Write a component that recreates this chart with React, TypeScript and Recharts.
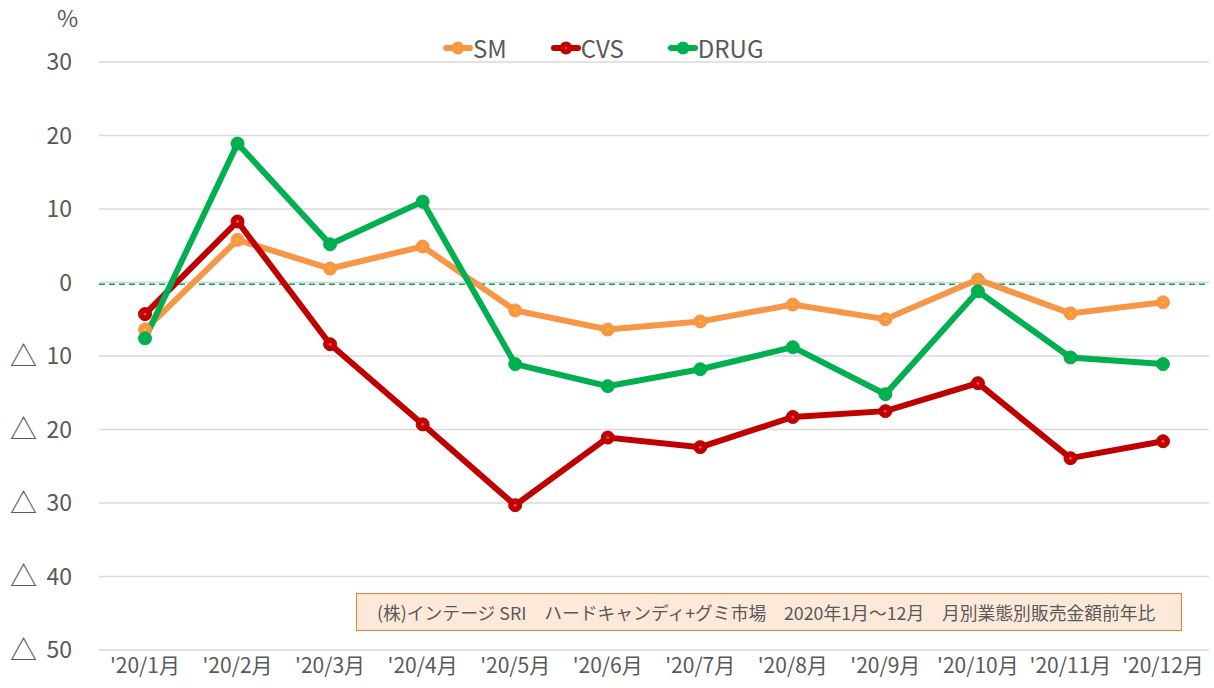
import React from "react";
import {
  CartesianGrid,
  Line,
  LineChart,
  ReferenceLine,
  XAxis,
  YAxis,
} from "recharts";

const months = [
  "'20/1月",
  "'20/2月",
  "'20/3月",
  "'20/4月",
  "'20/5月",
  "'20/6月",
  "'20/7月",
  "'20/8月",
  "'20/9月",
  "'20/10月",
  "'20/11月",
  "'20/12月",
];

const smValues = [-6.4, 5.8, 1.9, 4.9, -3.8, -6.4, -5.3, -3.0, -5.0, 0.4, -4.2, -2.7];
const cvsValues = [-4.3, 8.3, -8.4, -19.3, -30.3, -21.1, -22.4, -18.3, -17.5, -13.7, -23.9, -21.6];
const drugValues = [-7.6, 18.9, 5.2, 11.0, -11.1, -14.1, -11.8, -8.8, -15.2, -1.2, -10.2, -11.1];

const yTicks = [30, 20, 10, 0, -10, -20, -30, -40, -50];

const noteText =
  "(株)インテージ SRI　ハードキャンディ+グミ市場　2020年1月～12月　月別業態別販売金額前年比";

const series = [
  { key: "SM", color: "#f79646", inner: "#ffc000" },
  { key: "CVS", color: "#c00000", inner: "#e05050" },
  { key: "DRUG", color: "#00b050", inner: "#00b050" },
];

const data = months.map((m, i) => ({
  month: m,
  SM: smValues[i],
  CVS: cvsValues[i],
  DRUG: drugValues[i],
}));

const FONT = "'Noto Sans CJK JP', 'Noto Sans', sans-serif";
const TEXT = "#595959";

// negative values are shown with a triangle mark instead of a minus sign
function YTick(props: any) {
  const { x, y, payload } = props;
  const v = payload.value as number;
  return (
    <g>
      {v < 0 && (
        <text
          x={x - 62}
          y={y}
          dy="0.36em"
          fontSize={27}
          fill={TEXT}
          fontFamily={FONT}
          textAnchor="start"
        >
          △
        </text>
      )}
      <text
        x={x}
        y={y}
        dy="0.36em"
        fontSize={23}
        fill={TEXT}
        fontFamily={FONT}
        textAnchor="end"
      >
        {Math.abs(v)}
      </text>
    </g>
  );
}

function makeDot(color: string, inner: string) {
  return (props: any) => {
    const { cx, cy, index } = props;
    if (cx == null || cy == null) return <g key={index} />;
    return (
      <g key={index}>
        <circle cx={cx} cy={cy} r={6.5} fill={color} stroke={color} strokeWidth={1} />
        <circle cx={cx} cy={cy} r={1.5} fill={inner} />
      </g>
    );
  };
}

function ChartLegend() {
  return (
    <div
      style={{
        position: "absolute",
        left: 443,
        top: 33,
        display: "flex",
        gap: 44,
        fontSize: 24,
        color: TEXT,
        lineHeight: "30px",
      }}
    >
      {series.map((s) => (
        <div key={s.key} style={{ display: "flex", alignItems: "center" }}>
          <svg width={30} height={16}>
            <line x1={3} y1={8} x2={27} y2={8} stroke={s.color} strokeWidth={6} strokeLinecap="round" />
            <circle cx={15} cy={8} r={6.5} fill={s.color} />
            <circle cx={15} cy={8} r={1.2} fill={s.inner} />
          </svg>
          <span>{s.key}</span>
        </div>
      ))}
    </div>
  );
}

export default function App() {
  return (
    <div
      style={{
        position: "absolute",
        left: 0,
        top: 0,
        width: 1214,
        height: 688,
        background: "#fff",
        fontFamily: FONT,
      }}
    >
      <span
        style={{
          position: "absolute",
          left: 57,
          top: 0,
          fontSize: 23,
          color: TEXT,
        }}
      >
        %
      </span>
      <LineChart
        width={1214}
        height={688}
        data={data}
        margin={{ top: 62, right: 5, left: 9, bottom: 0 }}
      >
        <CartesianGrid stroke="#d9d9d9" vertical={false} strokeWidth={1.5} />
        <XAxis
          dataKey="month"
          axisLine={false}
          tickLine={false}
          tickSize={0}
          tickMargin={8}
          height={38}
          interval={0}
          padding={{ left: 46, right: 46 }}
          tick={{ fontSize: 21, fill: TEXT, fontFamily: FONT }}
        />
        <YAxis
          domain={[-50, 30]}
          ticks={yTicks}
          axisLine={false}
          tickLine={false}
          tickSize={0}
          tickMargin={27}
          width={90}
          interval={0}
          tick={<YTick />}
        />
        <ReferenceLine y={0} stroke="#d9d9d9" strokeWidth={1.5} />
        <ReferenceLine y={-0.25} stroke="#00b050" strokeWidth={1.5} strokeDasharray="6 4" />
        {series.map((s) => (
          <Line
            key={s.key}
            dataKey={s.key}
            stroke={s.color}
            strokeWidth={6}
            dot={makeDot(s.color, s.inner)}
            activeDot={false}
            isAnimationActive={false}
          />
        ))}
      </LineChart>
      <ChartLegend />
      <div
        style={{
          position: "absolute",
          left: 356,
          top: 593,
          width: 824,
          height: 36,
          background: "#fde9d9",
          border: "1.5px solid #ed7d31",
          boxSizing: "content-box",
          display: "flex",
          alignItems: "center",
          fontSize: 17.8,
          color: TEXT,
          whiteSpace: "pre",
        }}
      >
        <span style={{ marginLeft: 20 }}>{noteText}</span>
      </div>
    </div>
  );
}
